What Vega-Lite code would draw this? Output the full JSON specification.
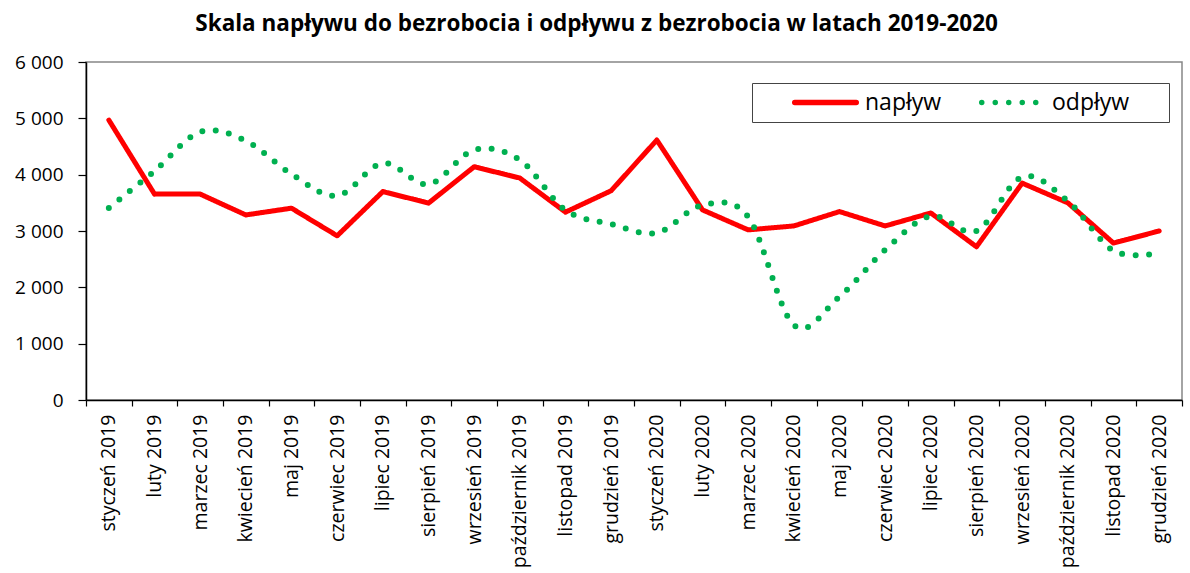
{
  "$schema": "https://vega.github.io/schema/vega-lite/v6.json",
  "autosize": "none",
  "width": 1096,
  "height": 338,
  "padding": {"left": 86, "top": 62, "right": 8, "bottom": 173},
  "background": "white",
  "title": {
    "text": "Skala napływu do bezrobocia i odpływu z bezrobocia w latach 2019-2020",
    "font": "Open Sans",
    "fontSize": 22.5,
    "fontWeight": "bold",
    "color": "#000000",
    "anchor": "middle",
    "frame": "bounds",
    "dx": -2,
    "offset": 18
  },
  "config": {
    "view": {"stroke": "#868686", "strokeWidth": 1.5},
    "font": "Open Sans"
  },
  "data": {
    "values": [
      {"miesiac": "styczeń 2019", "naplyw": 4970, "odplyw": 3410},
      {"miesiac": "luty 2019", "naplyw": 3655, "odplyw": 4065},
      {"miesiac": "marzec 2019", "naplyw": 3655, "odplyw": 4760},
      {"miesiac": "kwiecień 2019", "naplyw": 3285, "odplyw": 4600},
      {"miesiac": "maj 2019", "naplyw": 3405, "odplyw": 4010},
      {"miesiac": "czerwiec 2019", "naplyw": 2915, "odplyw": 3625},
      {"miesiac": "lipiec 2019", "naplyw": 3700, "odplyw": 4205},
      {"miesiac": "sierpień 2019", "naplyw": 3495, "odplyw": 3830},
      {"miesiac": "wrzesień 2019", "naplyw": 4140, "odplyw": 4440},
      {"miesiac": "październik 2019", "naplyw": 3940, "odplyw": 4260},
      {"miesiac": "listopad 2019", "naplyw": 3335, "odplyw": 3370},
      {"miesiac": "grudzień 2019", "naplyw": 3715, "odplyw": 3125},
      {"miesiac": "styczeń 2020", "naplyw": 4615, "odplyw": 2965},
      {"miesiac": "luty 2020", "naplyw": 3375, "odplyw": 3460},
      {"miesiac": "marzec 2020", "naplyw": 3020, "odplyw": 3250},
      {"miesiac": "kwiecień 2020", "naplyw": 3090, "odplyw": 1330},
      {"miesiac": "maj 2020", "naplyw": 3345, "odplyw": 1835},
      {"miesiac": "czerwiec 2020", "naplyw": 3090, "odplyw": 2665},
      {"miesiac": "lipiec 2020", "naplyw": 3320, "odplyw": 3265},
      {"miesiac": "sierpień 2020", "naplyw": 2720, "odplyw": 3000},
      {"miesiac": "wrzesień 2020", "naplyw": 3850, "odplyw": 3960},
      {"miesiac": "październik 2020", "naplyw": 3500, "odplyw": 3530},
      {"miesiac": "listopad 2020", "naplyw": 2785, "odplyw": 2650},
      {"miesiac": "grudzień 2020", "naplyw": 3000, "odplyw": 2610}
    ]
  },
  "encoding": {
    "x": {
      "field": "miesiac",
      "type": "nominal",
      "sort": null,
      "scale": {"type": "band", "paddingInner": 0, "paddingOuter": 0},
      "axis": {
        "title": null,
        "labelAngle": -90,
        "labelFontSize": 19.5,
        "labelColor": "#000000",
        "labelPadding": 8,
        "tickBand": "extent",
        "tickSize": 6,
        "tickColor": "#000000",
        "domainColor": "#000000",
        "domainWidth": 1.5,
        "tickWidth": 1.2
      }
    }
  },
  "layer": [
    {
      "mark": {"type": "line", "strokeWidth": 5, "strokeCap": "round", "strokeJoin": "round", "interpolate": "linear"},
      "encoding": {
        "y": {
          "field": "naplyw",
          "type": "quantitative",
          "scale": {"domain": [0, 6000], "nice": false},
          "axis": {
            "title": null,
            "values": [0, 1000, 2000, 3000, 4000, 5000, 6000],
            "labelExpr": "replace(format(datum.value, ','), ',', ' ')",
            "labelFontSize": 19,
            "labelColor": "#000000",
            "labelPadding": 15,
            "tickSize": 8,
            "tickColor": "#000000",
            "tickWidth": 1.2,
            "domainColor": "#000000",
            "domainWidth": 1.5,
            "grid": false
          }
        },
        "color": {
          "datum": "napływ",
          "type": "nominal",
          "scale": {"domain": ["napływ", "odpływ"], "range": ["#FF0000", "#00B050"]},
          "legend": {
            "title": null,
            "orient": "none",
            "legendX": 666,
            "legendY": 21,
            "direction": "horizontal",
            "labelFontSize": 23,
            "labelColor": "#000000",
            "labelOffset": 6,
            "labelExpr": "datum.label == 'odpływ' ? datum.label + '\u2800\u2800' : datum.label",
            "columnPadding": 3,
            "symbolType": "stroke",
            "symbolSize": 3782,
            "symbolStrokeWidth": 5.5,
            "symbolOffset": 34.5,
            "clipHeight": 28,
            "strokeColor": "#444444",
            "padding": 5.5,
            "encode": {
              "symbols": {
                "update": {
                  "strokeCap": {"value": "round"}
                }
              }
            }
          }
        },
        "strokeDash": {
          "datum": "napływ",
          "type": "nominal",
          "scale": {"domain": ["napływ", "odpływ"], "range": [[1, 0], [0, 13.5]]},
          "legend": null
        }
      }
    },
    {
      "mark": {"type": "line", "strokeWidth": 6, "strokeCap": "round", "interpolate": "cardinal", "tension": 0},
      "encoding": {
        "y": {"field": "odplyw", "type": "quantitative"},
        "color": {"datum": "odpływ", "type": "nominal"},
        "strokeDash": {"datum": "odpływ", "type": "nominal"}
      }
    }
  ]
}
